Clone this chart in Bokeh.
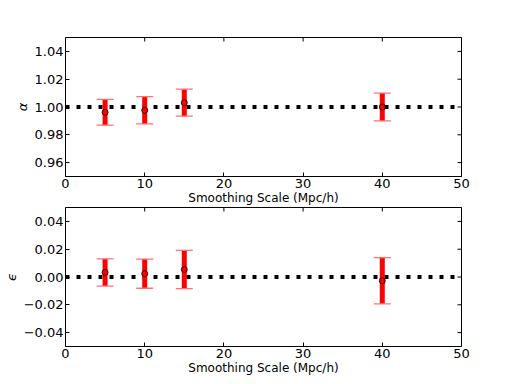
import math
from bokeh.plotting import figure
from bokeh.layouts import column
from bokeh.models import Span, FixedTicker, ColumnDataSource, Range1d
from bokeh.embed import file_html
from bokeh.resources import INLINE

# ---- data ----
scales = [5, 10, 15, 40]
alpha = [0.9962, 0.9976, 1.0031, 1.0000]
alpha_err = [0.0093, 0.0098, 0.0097, 0.0100]
eps = [0.0033, 0.0024, 0.0054, -0.0027]
eps_err = [0.0098, 0.0105, 0.0137, 0.0166]

x_ticks = [0, 10, 20, 30, 40, 50]
alpha_ticks = [0.96, 0.98, 1.00, 1.02, 1.04]
alpha_tick_labels = ["0.96", "0.98", "1.00", "1.02", "1.04"]
eps_ticks = [-0.04, -0.02, 0.00, 0.02, 0.04]
eps_tick_labels = ["\u22120.04", "\u22120.02", "0.00", "0.02", "0.04"]
x_label = "Smoothing Scale (Mpc/h)"

FONT = "DejaVu Sans"


def make_panel(vals, errs, yr, yticks, ylabels, ylab, ref, top_border):
    xr = Range1d(0, 50)
    yrng = Range1d(*yr)
    p = figure(frame_width=396, frame_height=139, output_backend="svg",
               toolbar_location=None, x_range=xr, y_range=yrng,
               min_border_left=56, min_border_right=20, min_border_top=top_border,
               min_border_bottom=0)
    p.grid.visible = False
    p.outline_line_color = "black"
    p.outline_line_width = 1
    p.background_fill_color = "white"
    p.border_fill_color = "white"

    for ax in (p.xaxis[0], p.yaxis[0]):
        ax.axis_line_color = None
        ax.major_tick_in = 4
        ax.major_tick_out = 0
        ax.minor_tick_line_color = None
        ax.major_tick_line_color = "black"
        ax.major_label_text_font = FONT
        ax.major_label_text_font_size = "13px"
        ax.major_label_text_color = "black"
        ax.axis_label_text_font = FONT
        ax.axis_label_text_color = "black"
    p.xaxis[0].ticker = FixedTicker(ticks=x_ticks)
    p.xaxis[0].major_label_standoff = 2
    p.xaxis[0].axis_label = x_label
    p.xaxis[0].axis_label_text_font_size = "12px"
    p.xaxis[0].axis_label_text_font_style = "normal"
    p.xaxis[0].axis_label_standoff = 0
    p.yaxis[0].ticker = FixedTicker(ticks=yticks)
    p.yaxis[0].major_label_overrides = {t: l for t, l in zip(yticks, ylabels)}
    p.yaxis[0].major_label_standoff = 2
    p.yaxis[0].axis_label = ylab
    p.yaxis[0].axis_label_text_font_size = "13px"
    p.yaxis[0].axis_label_text_line_height = 0.9
    p.yaxis[0].axis_label_text_font_style = "italic"
    p.yaxis[0].axis_label_standoff = 2

    # mirrored inward ticks on top and right edges (clipped to the frame)
    p.scatter(x=x_ticks, y=[yrng.end] * len(x_ticks), marker="dash", angle=math.pi / 2,
              size=8, line_color="black", line_width=1)
    p.scatter(x=[xr.end] * len(yticks), y=yticks, marker="dash",
              size=8, line_color="black", line_width=1)

    # reference dashed line
    p.add_layout(Span(location=ref, dimension="width", line_color="black",
                      line_width=4, line_dash="4 7", level="underlay"))

    src = ColumnDataSource(dict(
        x=scales, y=vals,
        lo=[v - e for v, e in zip(vals, errs)],
        hi=[v + e for v, e in zip(vals, errs)],
    ))
    p.segment(x0="x", x1="x", y0="lo", y1="hi", source=src,
              line_color="red", line_width=5)
    p.scatter(x="x", y="lo", source=src, marker="dash", size=17,
              line_color="#ff7070", line_width=1.3)
    p.scatter(x="x", y="hi", source=src, marker="dash", size=17,
              line_color="#ff7070", line_width=1.3)
    p.scatter(x="x", y="y", source=src, marker="circle", size=6,
              fill_color="red", line_color="black", line_width=0.8)
    return p


p1 = make_panel(alpha, alpha_err, (0.95, 1.05), alpha_ticks, alpha_tick_labels,
                "\u03b1", 1.0, 37)
p2 = make_panel(eps, eps_err, (-0.05, 0.05), eps_ticks, eps_tick_labels,
                "\u03f5", 0.0, 0)

layout = column(p1, p2, spacing=0)
open("out.html", "w").write(file_html(layout, INLINE))
